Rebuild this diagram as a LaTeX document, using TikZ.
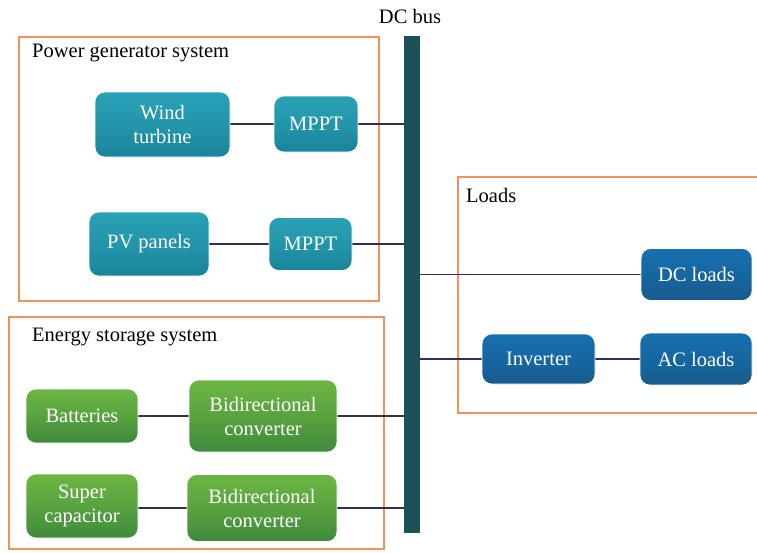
\documentclass[tikz,border=0pt]{standalone}
\usepackage{fontspec}
\setmainfont{Liberation Serif}
\usetikzlibrary{backgrounds}
\pgfdeclarelayer{edgelayer}
\pgfdeclarelayer{nodelayer}
\pgfsetlayers{edgelayer,nodelayer,main}
\definecolor{framec}{HTML}{F0925A}
\definecolor{busc}{HTML}{1C5257}
\definecolor{wirec}{HTML}{2E2E5C}
\definecolor{genhi}{HTML}{2AA1B6}
\definecolor{genlo}{HTML}{19849A}
\definecolor{storhi}{HTML}{6DB643}
\definecolor{storlo}{HTML}{3F8A3C}
\definecolor{loadhi}{HTML}{1670B0}
\definecolor{loadlo}{HTML}{175B8D}
\tikzset{font=\fontsize{20.5}{24}\selectfont}
\tikzstyle{none}=[inner sep=0pt]
\tikzstyle{blk}=[rectangle,rounded corners=10pt,draw=white,line width=0.6pt,text=white,align=center,inner sep=2pt]
\tikzstyle{gen}=[blk,top color=genhi,bottom color=genlo,middle color=genhi!60!genlo]
\tikzstyle{stor}=[blk,top color=storhi,bottom color=storlo,middle color=storhi!55!storlo]
\tikzstyle{load}=[blk,top color=loadhi,bottom color=loadlo,middle color=loadhi!55!loadlo]
\tikzstyle{frame}=[draw=framec,line width=1.2pt]
\tikzstyle{wire}=[draw=wirec,line width=1.5pt]

\begin{document}
\begin{tikzpicture}[x=1pt,y=-1pt]
	\useasboundingbox (0,0) rectangle (757,552);
	\begin{pgfonlayer}{edgelayer}
		\draw[style=frame] (19,37) rectangle (379,301);
		\draw[style=frame] (9,317) rectangle (384,549);
		\draw[style=frame] (757,177) -- (458,177) -- (458,413) -- (757,413);
	\end{pgfonlayer}
	\begin{pgfonlayer}{nodelayer}
		\node [style=none] (title) at (410,16) {DC bus};
		\node [style=none,anchor=west] (genlbl) at (32,53) {Power generator system};
		\node [style=none,anchor=west] (storlbl) at (32,337) {Energy storage system};
		\node [style=none,anchor=west] (loadlbl) at (466,195) {Loads};
		\node [rectangle,fill=busc,minimum width=16pt,minimum height=497pt,inner sep=0pt] (bus) at (412,284.5) {};
		% generator side
		\node [style=gen,minimum width=135pt,minimum height=65pt] (wind) at (162.5,124.5) {Wind\\turbine};
		\node [style=gen,minimum width=84pt,minimum height=56pt] (mppt1) at (316,124) {MPPT};
		\node [style=gen,minimum width=120pt,minimum height=64pt] (pv) at (149,244) {PV panels};
		\node [style=gen,minimum width=83pt,minimum height=53pt] (mppt2) at (310.5,244) {MPPT};
		% storage side
		\node [style=stor,minimum width=112pt,minimum height=54pt] (batt) at (82,416) {Batteries};
		\node [style=stor,minimum width=148pt,minimum height=72pt] (conv1) at (263,416) {Bidirectional\\converter};
		\node [style=stor,minimum width=112pt,minimum height=64pt] (scap) at (82,506) {Super\\capacitor};
		\node [style=stor,minimum width=150pt,minimum height=67pt] (conv2) at (262,508) {Bidirectional\\converter};
		% loads side
		\node [style=load,minimum width=111pt,minimum height=52pt] (dcl) at (696.5,274.5) {DC loads};
		\node [style=load,minimum width=113pt,minimum height=50pt] (inv) at (538.5,359) {Inverter};
		\node [style=load,minimum width=112pt,minimum height=52pt] (acl) at (696,359) {AC loads};
	\end{pgfonlayer}
	\begin{pgfonlayer}{edgelayer}
		\draw[style=wire] (wind.east |- mppt1) to (mppt1);
		\draw[style=wire] (mppt1) to (mppt1 -| bus.west);
		\draw[style=wire] (pv) to (mppt2);
		\draw[style=wire] (mppt2) to (mppt2 -| bus.west);
		\draw[style=wire] (batt) to (conv1);
		\draw[style=wire] (conv1) to (conv1 -| bus.west);
		\draw[style=wire] (scap.east |- conv2) to (conv2);
		\draw[style=wire] (conv2) to (conv2 -| bus.west);
		\draw[style=wire] (bus.east |- dcl) to (dcl);
		\draw[style=wire] (bus.east |- inv) to (inv);
		\draw[style=wire] (inv) to (acl);
	\end{pgfonlayer}
\end{tikzpicture}
\end{document}
